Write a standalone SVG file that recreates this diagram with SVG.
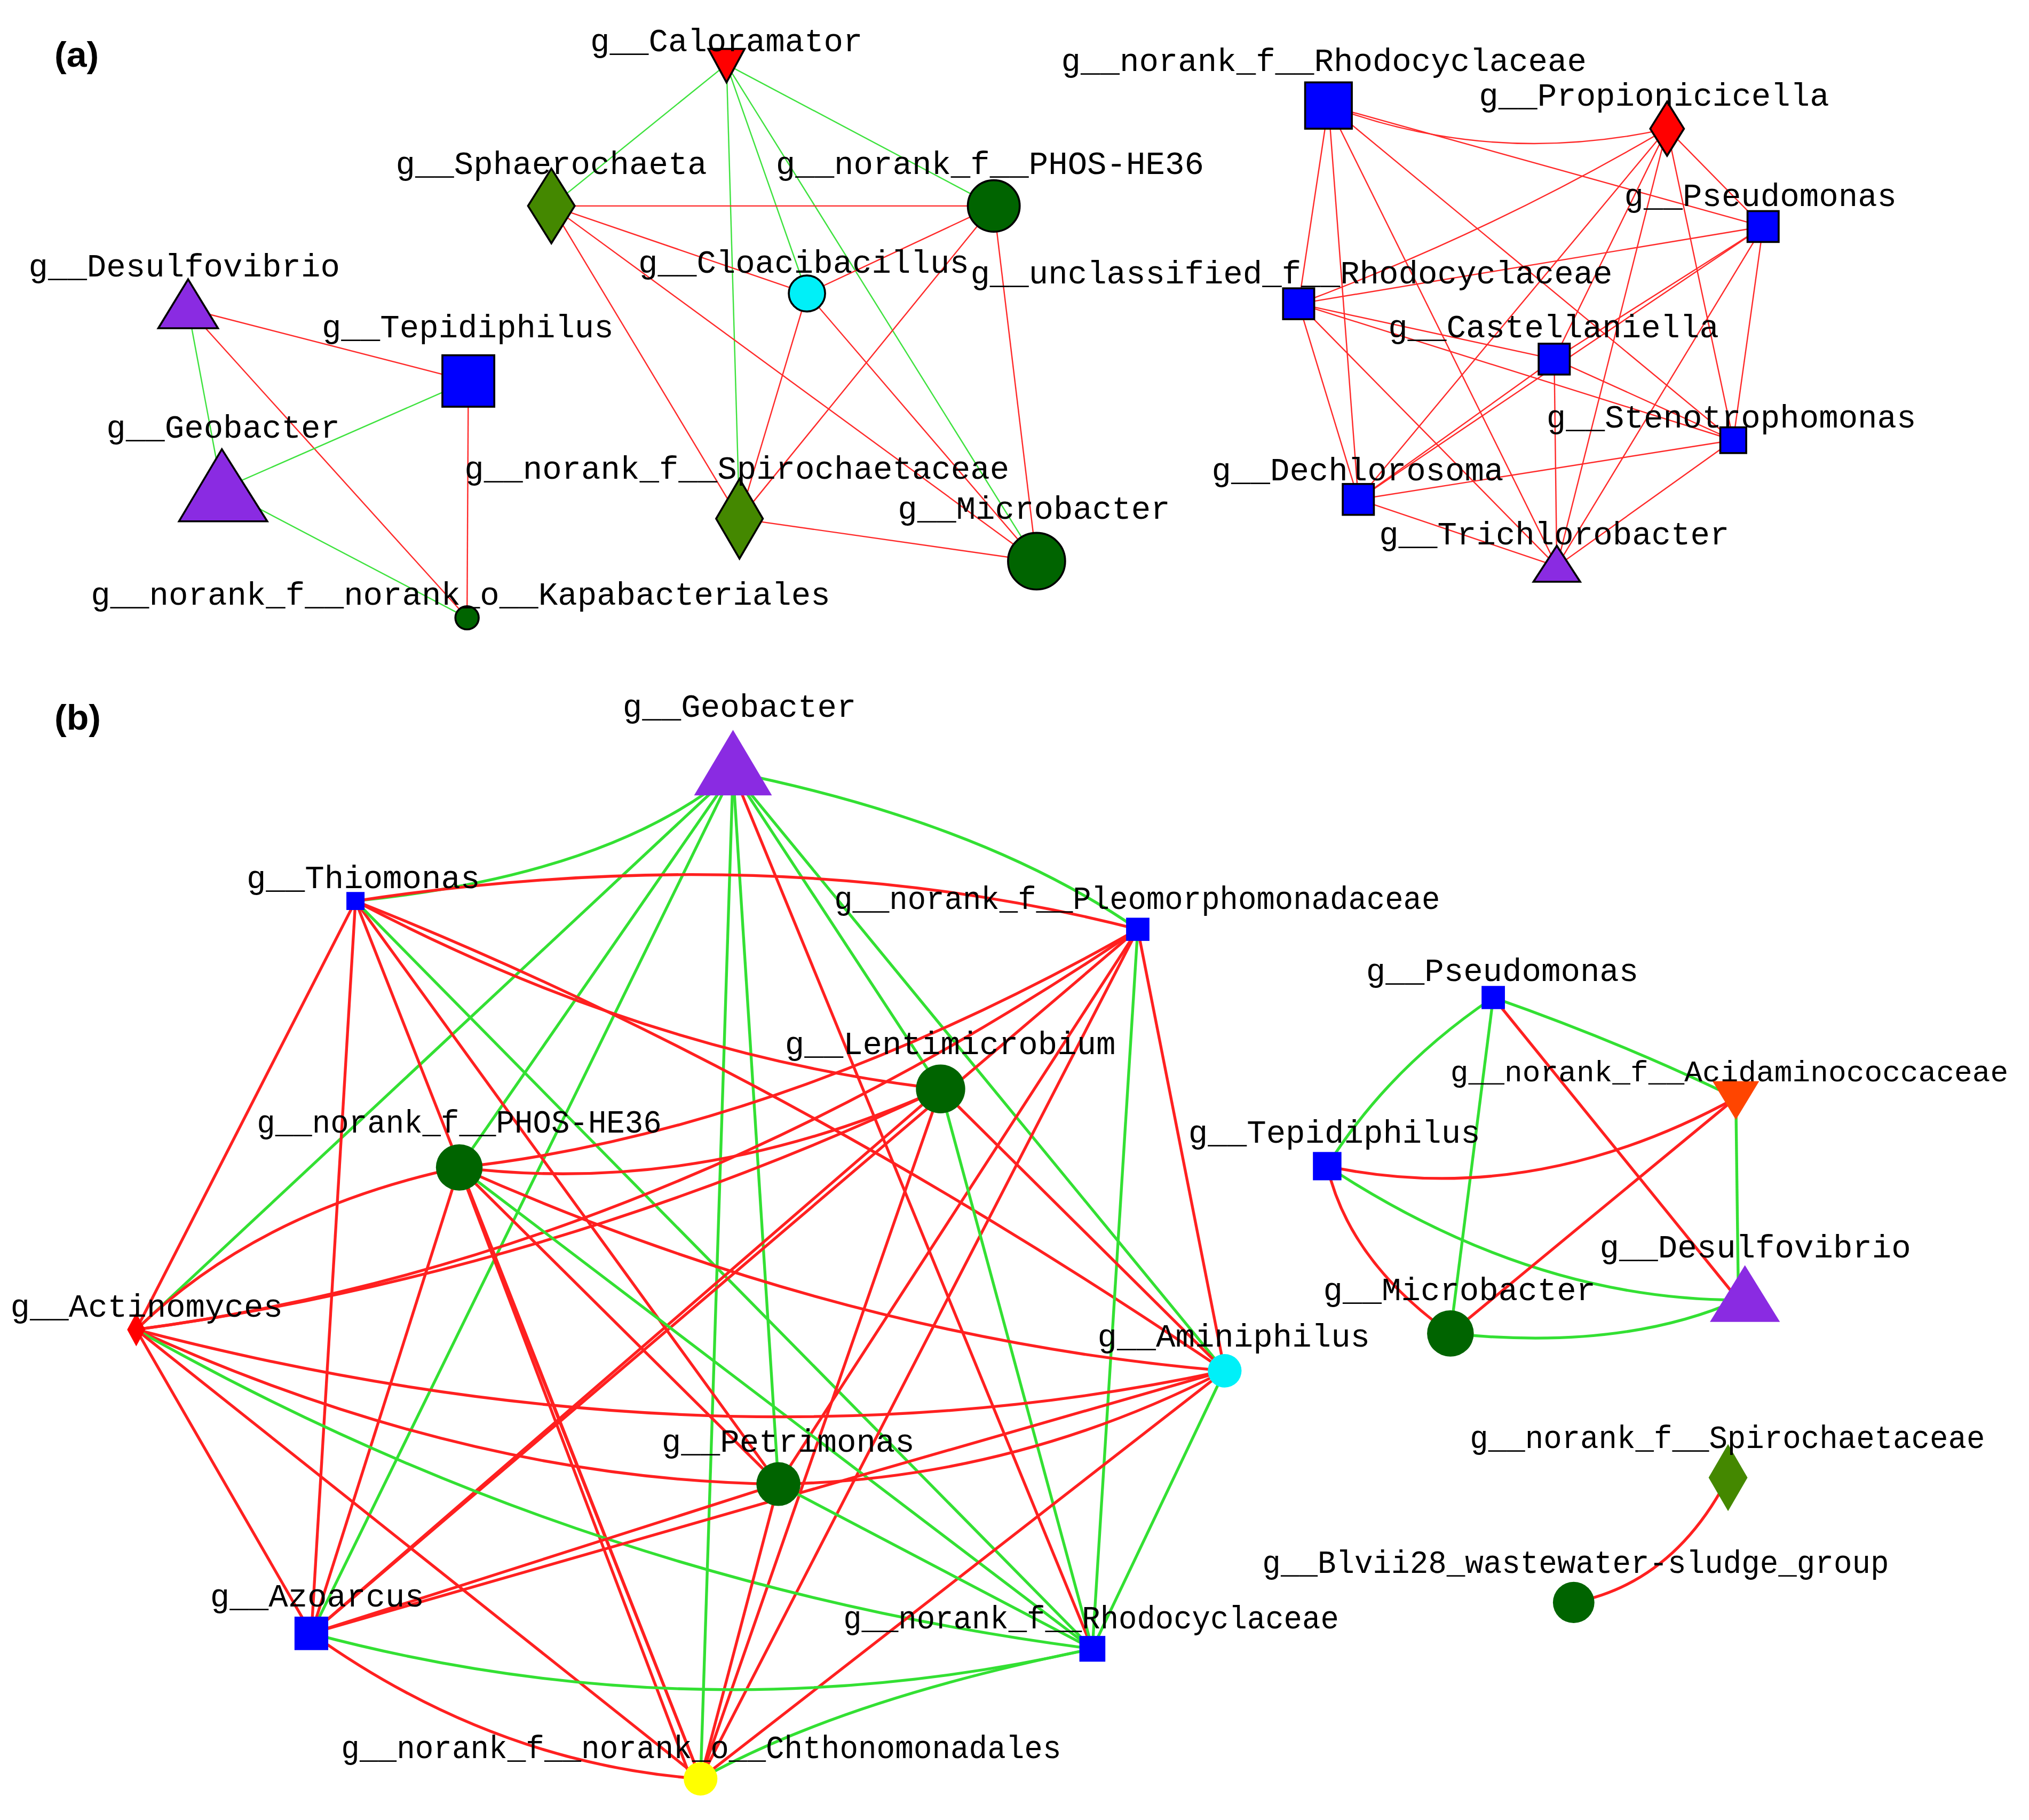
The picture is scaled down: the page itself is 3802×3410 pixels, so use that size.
<svg xmlns="http://www.w3.org/2000/svg" width="3802" height="3410" viewBox="0 0 3802 3410">
<style>
text{font-family:"Liberation Mono",monospace;font-size:25px;fill:#000}
.p{font-family:"Liberation Sans",Arial,sans-serif;font-weight:bold;font-size:28px}
.ra{stroke:#ff2a2a;stroke-width:1;fill:none}
.ga{stroke:#3ee23e;stroke-width:1;fill:none}
.rb{stroke:#ff2020;stroke-width:2.2;fill:none}
.gb{stroke:#33e033;stroke-width:2.2;fill:none}
.k{stroke:#000;stroke-width:1.5}
</style>
<rect width="3802" height="3410" fill="#fff"/>
<g transform="scale(2.431,2.4116)">
<text class="p" x="42" y="52">(a)</text>
<text class="p" x="42" y="567">(b)</text>
<g id="edges">
<line class="ga" x1="560" y1="50" x2="425" y2="160"/>
<line class="ga" x1="560" y1="50" x2="570" y2="403"/>
<line class="ga" x1="560" y1="50" x2="766" y2="160"/>
<line class="ga" x1="560" y1="50" x2="799" y2="436"/>
<line class="ga" x1="560" y1="50" x2="622" y2="228"/>
<line class="ra" x1="425" y1="160" x2="766" y2="160"/>
<line class="ra" x1="425" y1="160" x2="622" y2="228"/>
<line class="ra" x1="425" y1="160" x2="799" y2="436"/>
<line class="ra" x1="425" y1="160" x2="570" y2="403"/>
<line class="ra" x1="766" y1="160" x2="622" y2="228"/>
<line class="ra" x1="766" y1="160" x2="570" y2="403"/>
<line class="ra" x1="766" y1="160" x2="799" y2="436"/>
<line class="ra" x1="622" y1="228" x2="570" y2="403"/>
<line class="ra" x1="622" y1="228" x2="799" y2="436"/>
<line class="ra" x1="570" y1="403" x2="799" y2="436"/>
<line class="ra" x1="145" y1="240" x2="361" y2="296"/>
<line class="ga" x1="145" y1="240" x2="171" y2="380"/>
<line class="ra" x1="145" y1="240" x2="360" y2="480"/>
<line class="ga" x1="361" y1="296" x2="171" y2="380"/>
<line class="ra" x1="361" y1="296" x2="360" y2="480"/>
<line class="ga" x1="171" y1="380" x2="360" y2="480"/>
<path class="ra" d="M1024 82 Q1150 130 1285 100"/>
<line class="ra" x1="1024" y1="82" x2="1359" y2="176"/>
<line class="ra" x1="1024" y1="82" x2="1001" y2="236"/>
<line class="ra" x1="1024" y1="82" x2="1047" y2="388"/>
<line class="ra" x1="1024" y1="82" x2="1200" y2="440"/>
<line class="ra" x1="1024" y1="82" x2="1336" y2="342"/>
<path class="ra" d="M1285 100 Q1150 180 1001 236"/>
<line class="ra" x1="1285" y1="100" x2="1359" y2="176"/>
<line class="ra" x1="1285" y1="100" x2="1336" y2="342"/>
<line class="ra" x1="1285" y1="100" x2="1047" y2="388"/>
<line class="ra" x1="1285" y1="100" x2="1200" y2="440"/>
<line class="ra" x1="1285" y1="100" x2="1198" y2="279"/>
<line class="ra" x1="1359" y1="176" x2="1001" y2="236"/>
<line class="ra" x1="1359" y1="176" x2="1198" y2="279"/>
<line class="ra" x1="1359" y1="176" x2="1047" y2="388"/>
<line class="ra" x1="1359" y1="176" x2="1200" y2="440"/>
<line class="ra" x1="1359" y1="176" x2="1336" y2="342"/>
<line class="ra" x1="1001" y1="236" x2="1198" y2="279"/>
<line class="ra" x1="1001" y1="236" x2="1336" y2="342"/>
<line class="ra" x1="1001" y1="236" x2="1047" y2="388"/>
<line class="ra" x1="1001" y1="236" x2="1200" y2="440"/>
<line class="ra" x1="1198" y1="279" x2="1047" y2="388"/>
<line class="ra" x1="1198" y1="279" x2="1200" y2="440"/>
<line class="ra" x1="1198" y1="279" x2="1336" y2="342"/>
<line class="ra" x1="1336" y1="342" x2="1047" y2="388"/>
<line class="ra" x1="1336" y1="342" x2="1200" y2="440"/>
<line class="ra" x1="1047" y1="388" x2="1200" y2="440"/>
<path class="gb" d="M565 600 Q470 680 274 700"/>
<path class="gb" d="M565 600 Q760 640 877 722"/>
<line class="gb" x1="565" y1="600" x2="105" y2="1033"/>
<line class="gb" x1="565" y1="600" x2="240" y2="1269"/>
<line class="gb" x1="565" y1="600" x2="354" y2="907"/>
<line class="gb" x1="565" y1="600" x2="540" y2="1382"/>
<line class="gb" x1="565" y1="600" x2="600" y2="1153"/>
<line class="gb" x1="565" y1="600" x2="725" y2="846"/>
<line class="gb" x1="565" y1="600" x2="944" y2="1065"/>
<line class="rb" x1="565" y1="600" x2="842" y2="1281"/>
<path class="rb" d="M274 700 Q600 650 877 722"/>
<line class="rb" x1="274" y1="700" x2="105" y2="1033"/>
<line class="rb" x1="274" y1="700" x2="240" y2="1269"/>
<line class="rb" x1="274" y1="700" x2="540" y2="1382"/>
<line class="rb" x1="274" y1="700" x2="600" y2="1153"/>
<path class="rb" d="M274 700 Q500 820 725 846"/>
<path class="rb" d="M274 700 Q600 830 944 1065"/>
<line class="gb" x1="274" y1="700" x2="842" y2="1281"/>
<path class="rb" d="M877 722 Q600 880 354 907"/>
<path class="rb" d="M877 722 Q500 980 105 1033"/>
<line class="rb" x1="877" y1="722" x2="240" y2="1269"/>
<line class="rb" x1="877" y1="722" x2="540" y2="1382"/>
<line class="rb" x1="877" y1="722" x2="600" y2="1153"/>
<line class="gb" x1="877" y1="722" x2="842" y2="1281"/>
<line class="rb" x1="877" y1="722" x2="944" y2="1065"/>
<path class="rb" d="M725 846 Q540 930 354 907"/>
<path class="rb" d="M725 846 Q420 990 105 1033"/>
<line class="rb" x1="725" y1="846" x2="240" y2="1269"/>
<line class="rb" x1="725" y1="846" x2="540" y2="1382"/>
<line class="gb" x1="725" y1="846" x2="842" y2="1281"/>
<line class="rb" x1="725" y1="846" x2="944" y2="1065"/>
<path class="rb" d="M354 907 Q200 940 105 1033"/>
<line class="rb" x1="354" y1="907" x2="240" y2="1269"/>
<line class="rb" x1="354" y1="907" x2="540" y2="1382"/>
<line class="rb" x1="354" y1="907" x2="530" y2="1375"/>
<line class="rb" x1="354" y1="907" x2="600" y2="1153"/>
<line class="gb" x1="354" y1="907" x2="842" y2="1281"/>
<path class="rb" d="M354 907 Q650 1040 944 1065"/>
<path class="rb" d="M105 1033 Q550 1150 944 1065"/>
<path class="rb" d="M105 1033 Q360 1150 600 1153"/>
<path class="gb" d="M105 1033 Q450 1230 842 1281"/>
<line class="rb" x1="105" y1="1033" x2="240" y2="1269"/>
<line class="rb" x1="105" y1="1033" x2="540" y2="1382"/>
<line class="rb" x1="944" y1="1065" x2="240" y2="1269"/>
<line class="rb" x1="944" y1="1065" x2="540" y2="1382"/>
<line class="gb" x1="944" y1="1065" x2="842" y2="1281"/>
<path class="rb" d="M944 1065 Q780 1150 600 1153"/>
<line class="rb" x1="600" y1="1153" x2="240" y2="1269"/>
<line class="rb" x1="600" y1="1153" x2="540" y2="1382"/>
<line class="gb" x1="600" y1="1153" x2="842" y2="1281"/>
<path class="gb" d="M240 1269 Q540 1350 842 1281"/>
<path class="rb" d="M240 1269 Q380 1370 540 1382"/>
<path class="gb" d="M842 1281 Q650 1320 540 1382"/>
<path class="gb" d="M1151 775 Q1070 830 1023 906"/>
<path class="gb" d="M1151 775 Q1250 810 1338 853"/>
<line class="rb" x1="1151" y1="775" x2="1340" y2="1010"/>
<line class="gb" x1="1151" y1="775" x2="1118" y2="1036"/>
<path class="rb" d="M1023 906 Q1180 940 1338 853"/>
<path class="rb" d="M1023 906 Q1040 980 1118 1036"/>
<path class="gb" d="M1023 906 Q1180 1010 1340 1010"/>
<line class="rb" x1="1338" y1="853" x2="1118" y2="1036"/>
<line class="gb" x1="1338" y1="853" x2="1340" y2="1010"/>
<path class="gb" d="M1118 1036 Q1250 1050 1340 1010"/>
<path class="rb" d="M1332 1148 Q1290 1230 1213 1245"/>
</g>
<g id="a_caloramator"><polygon class="k" points="546,38 574,38 560,64" fill="#ff0000"/><text x="455" y="40">g__Caloramator</text></g>
<g id="a_sphaerochaeta"><polygon class="k" points="425,131 443,160 425,189 407,160" fill="#448800"/><text x="305" y="135">g__Sphaerochaeta</text></g>
<g id="a_phos"><circle class="k" cx="766" cy="160" r="20" fill="#006400"/><text x="598" y="135">g__norank_f__PHOS-HE36</text></g>
<g id="a_cloacibacillus"><circle class="k" cx="622" cy="228" r="14" fill="#00f0f8"/><text x="492" y="212">g__Cloacibacillus</text></g>
<g id="a_desulfovibrio"><polygon class="k" points="145,217 168,255 122,255" fill="#8a2be2"/><text x="22" y="215">g__Desulfovibrio</text></g>
<g id="a_tepidiphilus"><rect class="k" x="341" y="276" width="40" height="40" fill="#0000ff"/><text x="248" y="262">g__Tepidiphilus</text></g>
<g id="a_geobacter"><polygon class="k" points="171,349 206,405 138,405" fill="#8a2be2"/><text x="82" y="340">g__Geobacter</text></g>
<g id="a_spirochaetaceae"><polygon class="k" points="570,372 588,403 570,434 552,403" fill="#448800"/><text x="358" y="372">g__norank_f__Spirochaetaceae</text></g>
<g id="a_microbacter"><circle class="k" cx="799" cy="436" r="22" fill="#006400"/><text x="692" y="403">g__Microbacter</text></g>
<g id="a_kapa"><circle class="k" cx="360" cy="480" r="9" fill="#006400"/><text x="70" y="470">g__norank_f__norank_o__Kapabacteriales</text></g>
<g id="a_rhodo"><rect class="k" x="1006" y="64" width="36" height="36" fill="#0000ff"/><text x="818" y="55">g__norank_f__Rhodocyclaceae</text></g>
<g id="a_propion"><polygon class="k" points="1285,79 1298,100 1285,121 1272,100" fill="#ff0000"/><text x="1140" y="82">g__Propionicicella</text></g>
<g id="a_pseudo"><rect class="k" x="1347" y="164" width="24" height="24" fill="#0000ff"/><text x="1252" y="160">g__Pseudomonas</text></g>
<g id="a_unclass"><rect class="k" x="989" y="224" width="24" height="24" fill="#0000ff"/><text x="748" y="220">g__unclassified_f__Rhodocyclaceae</text></g>
<g id="a_castell"><rect class="k" x="1186" y="267" width="24" height="24" fill="#0000ff"/><text x="1070" y="262">g__Castellaniella</text></g>
<g id="a_steno"><rect class="k" x="1326" y="332" width="20" height="20" fill="#0000ff"/><text x="1192" y="332">g__Stenotrophomonas</text></g>
<g id="a_dechl"><rect class="k" x="1035" y="376" width="24" height="24" fill="#0000ff"/><text x="934" y="373">g__Dechlorosoma</text></g>
<g id="a_trichl"><polygon class="k" points="1200,424 1218,452 1182,452" fill="#8a2be2"/><text x="1063" y="423">g__Trichlorobacter</text></g>
<g id="b_geobacter"><polygon points="565,567 595,618 535,618" fill="#8a2be2"/><text x="480" y="557">g__Geobacter</text></g>
<g id="b_thiomonas"><rect x="267" y="693" width="14" height="14" fill="#0000ff"/><text x="190" y="690">g__Thiomonas</text></g>
<g id="b_pleo"><rect x="868" y="713" width="18" height="18" fill="#0000ff"/><text x="643" y="706" textLength="467" lengthAdjust="spacingAndGlyphs">g__norank_f__Pleomorphomonadaceae</text></g>
<g id="b_lenti"><circle cx="725" cy="846" r="19" fill="#006400"/><text x="605" y="819">g__Lentimicrobium</text></g>
<g id="b_phos"><circle cx="354" cy="907" r="18" fill="#006400"/><text x="198" y="880" textLength="312" lengthAdjust="spacingAndGlyphs">g__norank_f__PHOS-HE36</text></g>
<g id="b_actino"><polygon points="105,1020 112,1033 105,1046 98,1033" fill="#ff0000"/><text x="8" y="1023">g__Actinomyces</text></g>
<g id="b_amini"><circle cx="944" cy="1065" r="13" fill="#00f0f8"/><text x="846" y="1046">g__Aminiphilus</text></g>
<g id="b_petri"><circle cx="600" cy="1153" r="17" fill="#006400"/><text x="510" y="1128">g__Petrimonas</text></g>
<g id="b_azo"><rect x="227" y="1256" width="26" height="26" fill="#0000ff"/><text x="162" y="1248">g__Azoarcus</text></g>
<g id="b_rhodo"><rect x="832" y="1271" width="20" height="20" fill="#0000ff"/><text x="650" y="1265" textLength="382" lengthAdjust="spacingAndGlyphs">g__norank_f__Rhodocyclaceae</text></g>
<g id="b_chthon"><circle cx="540" cy="1382" r="13" fill="#ffff00"/><text x="263" y="1366" textLength="555" lengthAdjust="spacingAndGlyphs">g__norank_f__norank_o__Chthonomonadales</text></g>
<g id="b_pseudo"><rect x="1142" y="766" width="18" height="18" fill="#0000ff"/><text x="1053" y="762">g__Pseudomonas</text></g>
<g id="b_acid"><polygon points="1320,840 1356,840 1338,870" fill="#ff4500"/><text x="1118" y="840" style="font-size:23px" textLength="430" lengthAdjust="spacingAndGlyphs">g__norank_f__Acidaminococcaceae</text></g>
<g id="b_tepid"><rect x="1012" y="895" width="22" height="22" fill="#0000ff"/><text x="916" y="888">g__Tepidiphilus</text></g>
<g id="b_desulfo"><polygon points="1345,983 1372,1027 1318,1027" fill="#8a2be2"/><text x="1233" y="977">g__Desulfovibrio</text></g>
<g id="b_microbacter"><circle cx="1118" cy="1036" r="18" fill="#006400"/><text x="1020" y="1010">g__Microbacter</text></g>
<g id="b_spiro"><polygon points="1332,1122 1347,1148 1332,1174 1317,1148" fill="#448800"/><text x="1133" y="1125" textLength="397" lengthAdjust="spacingAndGlyphs">g__norank_f__Spirochaetaceae</text></g>
<g id="b_blvii"><circle cx="1213" cy="1245" r="16" fill="#006400"/><text x="973" y="1222" textLength="483" lengthAdjust="spacingAndGlyphs">g__Blvii28_wastewater-sludge_group</text></g>
</g>
</svg>
